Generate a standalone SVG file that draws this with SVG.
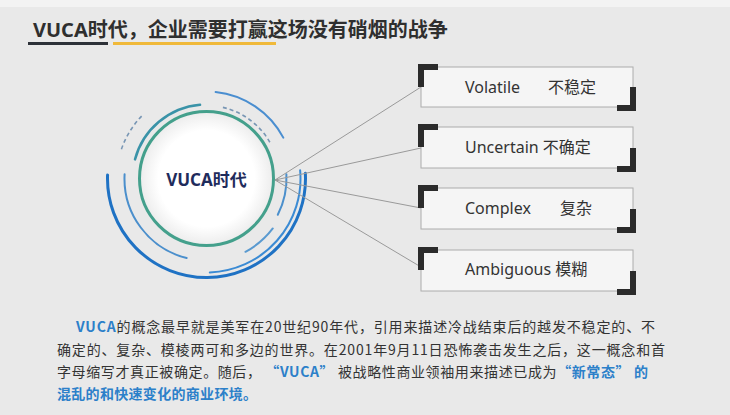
<svg xmlns="http://www.w3.org/2000/svg" width="730" height="415" viewBox="0 0 730 415">
  <defs>
    <radialGradient id="core" cx="50%" cy="50%" r="50%">
      <stop offset="0%" stop-color="#ffffff"/>
      <stop offset="72%" stop-color="#ffffff"/>
      <stop offset="100%" stop-color="#ececec"/>
    </radialGradient>
    <style>
      .title { font-family: "Noto Sans", "Noto Sans CJK SC", sans-serif; font-size: 20px; font-weight: 700; fill: #2f2f2f; }
      .arc { fill: none; stroke-linecap: round; }
      .dash { fill: none; stroke: #7896b4; stroke-width: 1.6; stroke-dasharray: 4 3; }
      .link { stroke: #9a9a9a; stroke-width: 1; fill: none; }
      .box rect { fill: #f5f5f5; stroke: #acacac; stroke-width: 1; }
      .box path { fill: #2b2b2b; }
      .label { font-family: "Noto Sans", "Noto Sans CJK SC", sans-serif; font-size: 16px; fill: #333333; }
      .body { font-family: "Noto Sans CJK SC", "Noto Sans", sans-serif; font-size: 14px; fill: #333333; }
      .hl { fill: #2c80c9; font-weight: 700; }
    </style>
  </defs>

  <!-- backdrop -->
  <rect width="730" height="415" fill="#e9e9e9"/>
  <rect width="730" height="7" fill="#f3f3f3"/>

  <!-- heading with two-tone rule -->
  <g id="heading">
    <text class="title" x="33" y="37">VUCA时代，企业需要打赢这场没有硝烟的战争</text>
    <rect x="28" y="42" width="80" height="3" fill="#2d3138"/>
    <rect x="113" y="42" width="163" height="3" fill="#f0b93a"/>
  </g>

  <!-- central hub with decorative rings -->
  <g id="hub">
    <path class="arc" d="M135.0,159.35 A74,74 0 0 1 200.05,104.78" stroke="#3a93a8" stroke-width="2.5"/>
    <path class="dash" d="M121.4,149.2 A90,90 0 0 1 141.76,115.98"/>
    <path class="arc" d="M215.6,92.0 A87,87 0 0 1 283.3,137.65" stroke="#4a8ed0" stroke-width="2"/>
    <path class="dash" d="M222.9,107.4 A73,73 0 0 1 270.95,144.23"/>
    <path class="arc" d="M107.56,175.05 A99,99 0 1 0 305.36,173.32" stroke="#1f72c4" stroke-width="3"/>
    <path class="arc" d="M209.78,272.44 A94,94 0 0 0 300.14,170.3" stroke="#3b8bd4" stroke-width="2"/>
    <path class="arc" d="M124.6,174.2 A82,82 0 0 0 186.66,258.06" stroke="#4b8fcc" stroke-width="2"/>
    <path class="arc" d="M286.39,174.31 A80,80 0 0 1 277.78,214.82" stroke="#4b8fcc" stroke-width="2"/>
    <path class="arc" d="M245.47,251.78 A83,83 0 0 0 272.78,228.45" stroke="#5a9ad0" stroke-width="2"/>
    <circle cx="206.5" cy="178.5" r="67" fill="url(#core)" stroke="#44a08c" stroke-width="3"/>
    <text x="206.5" y="186" text-anchor="middle" font-family="Noto Sans, Noto Sans CJK SC, sans-serif" font-size="17" font-weight="700" fill="#1f2c5c">VUCA时代</text>
  </g>

  <!-- connectors from hub to each term -->
  <g id="connectors">
    <line class="link" x1="275" y1="180" x2="421" y2="87"/>
    <line class="link" x1="275" y1="180" x2="421" y2="148"/>
    <line class="link" x1="275" y1="180" x2="421" y2="208"/>
    <line class="link" x1="275" y1="180" x2="421" y2="267"/>
  </g>

  <g id="volatile" class="box">
    <rect x="421" y="67" width="212" height="40"/>
    <path d="M418,64 H438 V70 H424 V87 H418 Z"/>
    <path d="M636,87 V111 H617 V105 H630 V87 Z"/>
    <text class="label" x="465" y="93">Volatile</text>
    <text class="label" x="548" y="93">不稳定</text>
  </g>

  <g id="uncertain" class="box">
    <rect x="421" y="127" width="212" height="41"/>
    <path d="M418,124 H438 V130 H424 V147 H418 Z"/>
    <path d="M636,148 V172 H617 V166 H630 V148 Z"/>
    <text class="label" x="465" y="153">Uncertain 不确定</text>
  </g>

  <g id="complex" class="box">
    <rect x="421" y="188" width="212" height="41"/>
    <path d="M418,185 H438 V191 H424 V208 H418 Z"/>
    <path d="M636,209 V233 H617 V227 H630 V209 Z"/>
    <text class="label" x="465" y="214">Complex</text>
    <text class="label" x="560" y="214">复杂</text>
  </g>

  <g id="ambiguous" class="box">
    <rect x="421" y="250" width="212" height="41"/>
    <path d="M418,247 H438 V253 H424 V270 H418 Z"/>
    <path d="M636,271 V295 H617 V289 H630 V271 Z"/>
    <text class="label" x="465" y="275">Ambiguous 模糊</text>
  </g>

  <!-- explanatory paragraph -->
  <g id="paragraph">
    <text class="body" x="76" y="332" textLength="579" lengthAdjust="spacing"><tspan class="hl">VUCA</tspan>的概念最早就是美军在20世纪90年代，引用来描述冷战结束后的越发不稳定的、不</text>
    <text class="body" x="57" y="355" textLength="608" lengthAdjust="spacing">确定的、复杂、模棱两可和多边的世界。在2001年9月11日恐怖袭击发生之后，这一概念和首</text>
    <text class="body" x="57" y="377" textLength="591" lengthAdjust="spacing">字母缩写才真正被确定。随后， <tspan class="hl">“VUCA”</tspan> 被战略性商业领袖用来描述已成为<tspan class="hl">“新常态” 的</tspan></text>
    <text class="body hl" x="57" y="399" textLength="200" lengthAdjust="spacing">混乱的和快速变化的商业环境。</text>
  </g>
</svg>
